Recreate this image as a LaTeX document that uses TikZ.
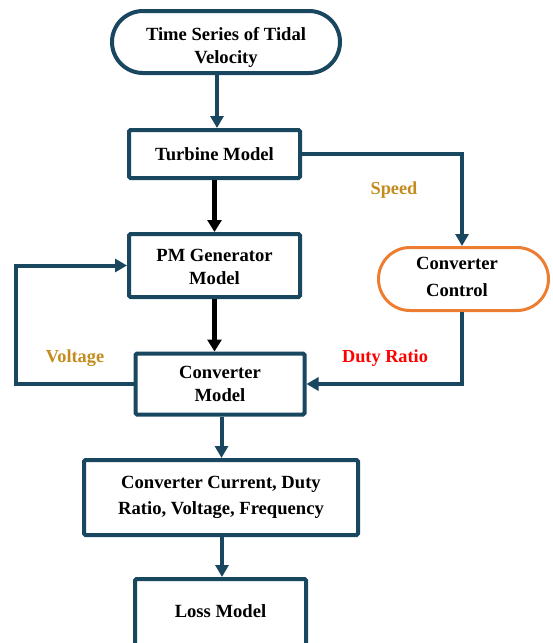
\documentclass[tikz,border=0pt]{standalone}
\usepackage{fontspec}
\setmainfont{Liberation Serif}
\usetikzlibrary{arrows.meta,shapes.misc}
\definecolor{flowline}{HTML}{1A4760}
\definecolor{ctrlorange}{HTML}{ED7D31}
\definecolor{labelgold}{HTML}{C38C1C}
\begin{document}
\begin{tikzpicture}[x=1pt,y=-1pt,
  every node/.style={font=\fontsize{18.6}{23}\selectfont\bfseries, align=center, inner sep=0pt},
  blockbox/.style={draw=flowline, line width=4pt, fill=white, rounded corners=1.5pt},
  termbox/.style={draw=flowline, line width=4pt, fill=white, rounded rectangle},
  ctrlbox/.style={draw=ctrlorange, line width=3pt, fill=white, rounded rectangle},
  flowarrow/.style={draw=flowline, line width=4pt, -{Triangle[length=12pt,width=13pt]}},
  mainarrow/.style={draw=black, line width=5pt, -{Triangle[length=12pt,width=14pt]}},
  widetext/.style={font=\fontsize{18.6}{26.5}\selectfont\bfseries},
  siglabel/.style={font=\fontsize{18.3}{22}\selectfont\bfseries}
]
\useasboundingbox (0,0) rectangle (553,643);
\begin{scope}
\clip (0,0) rectangle (553,643);

% blocks
\node[termbox, minimum width=228pt, minimum height=62pt] (src) at (226,42) {};
\node (srctext) at (226,47) {Time Series of Tidal\\Velocity};
\node[blockbox, minimum width=171pt, minimum height=48pt] (turb) at (214.5,154) {Turbine Model};
\node[blockbox, minimum width=171pt, minimum height=63pt] (pmg) at (214.5,265.5) {};
\node (pmgtext) at (214.5,267) {PM Generator\\Model};
\node[blockbox, minimum width=169pt, minimum height=61pt] (conv) at (220,384) {Converter\\Model};
\node[ctrlbox, minimum width=170pt, minimum height=63pt] (ctrl) at (463.5,279) {};
\node[widetext] (ctrltext) at (457,277) {Converter\\Control};
\node[blockbox, widetext, minimum width=274pt, minimum height=75pt] (cur) at (221,497.5) {Converter Current, Duty\\Ratio, Voltage, Frequency};
\node[blockbox, minimum width=171pt, minimum height=90pt] (loss) at (220.5,624) {};
\node (losstext) at (220.5,611) {Loss Model};

% connectors
\draw[flowarrow] ([xshift=2.5pt]turb.north |- src.south) -- ([xshift=2.5pt]turb.north);
\draw[mainarrow] (turb.south) -- (turb.south |- pmg.north);
\draw[mainarrow] (pmg.south) -- (pmg.south |- conv.north);
\draw[flowarrow] ([xshift=1.5pt]conv.south) -- ([xshift=1.5pt]conv.south |- cur.north);
\draw[flowarrow] ([xshift=1pt]cur.south) -- ([xshift=1pt]cur.south |- loss.north);
\draw[flowarrow] (turb.east) -| ([xshift=-1.5pt]ctrl.north);
\draw[flowarrow] ([xshift=-1.5pt]ctrl.south) |- (conv.east);
\draw[flowarrow] (conv.west) -- ++(-118,0) |- (pmg.west);

% signal labels
\node[siglabel, text=labelgold] (speed) at (394,190) {Speed};
\node[siglabel, text=labelgold] (volt) at (75,358) {Voltage};
\node[siglabel, text=red] (duty) at (385,358) {Duty Ratio};
\end{scope}
\end{tikzpicture}
\end{document}
